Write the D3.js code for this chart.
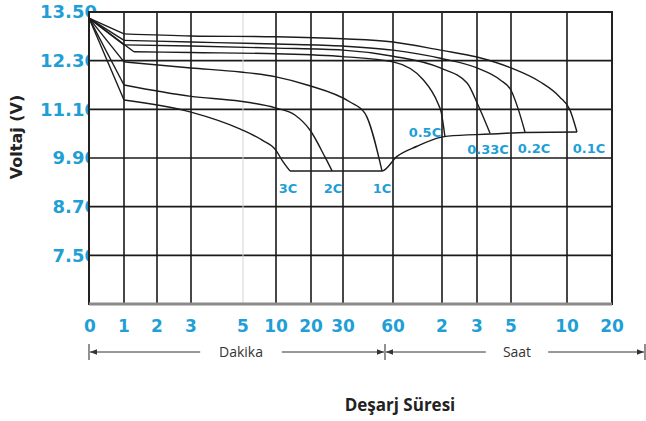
<!DOCTYPE html>
<html>
<head>
<meta charset="utf-8">
<script src="https://cdn.jsdelivr.net/npm/d3@7"></script>
<style>
  body { margin: 0; background: #fff; }
  svg { display: block; }
</style>
</head>
<body>
<svg id="chart" width="646" height="421"></svg>
<script>
// discharge time in minutes, voltage in V
let tickMinutes = [0, 1, 2, 3, 5, 10, 20, 30, 60, 120, 180, 300, 600, 1200];
let tickLabels = ['0', '1', '2', '3', '5', '10', '20', '30', '60', '2', '3', '5', '10', '20'];
let voltTicks = [13.5, 12.3, 11.1, 9.9, 8.7, 7.5];
let voltLabels = ['13.50', '12.30', '11.10', '9.90', '8.70', '7.50'];

let curveNames = ['0.1C', '0.2C', '0.33C', '0.5C', '1C', '2C', '3C'];

let c01 = [[0, 13.35], [1, 12.96], [3, 12.91], [10, 12.89], [30, 12.84], [60, 12.76], [118, 12.56],
  [180, 12.39], [300, 12.12], [455, 11.78], [562, 11.40], [640, 11.08], [733, 10.54]];
let c02 = [[0, 13.35], [1, 12.80], [3, 12.76], [10, 12.71], [30, 12.66], [60, 12.56], [118, 12.36],
  [180, 12.12], [261, 11.83], [300, 11.57], [337, 11.13], [375, 10.54]];
let c033 = [[0, 13.35], [1, 12.69], [3, 12.66], [10, 12.61], [30, 12.56], [60, 12.41], [118, 12.12],
  [163, 11.75], [184, 11.20], [226, 10.51]];
let c05 = [[0, 13.35], [1.3, 12.52], [3, 12.50], [10, 12.47], [30, 12.40], [60, 12.27], [97, 11.83],
  [115, 11.25], [119, 11.03], [125, 10.43]];
let c1 = [[0, 13.35], [1, 12.27], [3, 12.12], [4.9, 12.02], [10, 11.90], [18.9, 11.70], [34.2, 11.28],
  [43.2, 11.00], [53.4, 9.58]];
let c2 = [[0, 13.35], [1, 11.70], [3, 11.42], [4.9, 11.30], [10, 11.13], [15.4, 10.96], [19.7, 10.59],
  [24.4, 9.92], [26.6, 9.58]];
let c3 = [[0, 13.35], [1, 11.33], [3, 11.03], [4.9, 10.61], [7.9, 10.34], [10, 10.09], [11.7, 9.85], [14, 9.58]];

// end-of-discharge voltage line
let cutoff = [[14, 9.58], [53.4, 9.58], [64.9, 9.94], [89.4, 10.19], [118, 10.41], [130, 10.44],
  [226, 10.49], [375, 10.53], [733, 10.54]];

let curves = [c01, c02, c033, c05, c1, c2, c3];

// label offsets from each curve's end point (px)
let labelOffsets = [[12, 16], [9, 16], [-2, 16], [-20, -4], [0, 17], [1, 17], [-2, 17]];

let blue = '#1f9fd5';
let svg = d3.select('#chart');

let margin = {left: 89, right: 612, top: 12, bottom: 304};

let x = d3.scaleLinear()
  .domain(tickMinutes)
  .range([89, 124, 157, 191, 243, 276, 311, 343, 393, 442, 477, 511, 567, 612]);

let y = d3.scaleLinear()
  .domain([6.3, 13.5])
  .range([margin.bottom, margin.top]);

// y tick labels (their last digit is half hidden behind the plot, as in the original)
svg.append('g')
  .selectAll('text')
  .data(voltTicks)
  .enter()
  .append('text')
  .attr('x', 97)
  .attr('y', d => y(d))
  .attr('dy', '0.36em')
  .attr('text-anchor', 'end')
  .style('font-family', 'DejaVu Sans')
  .style('font-weight', 'bold')
  .style('font-size', '18px')
  .style('fill', blue)
  .text((d, i) => voltLabels[i]);

svg.append('rect')
  .attr('x', margin.left)
  .attr('y', margin.top)
  .attr('width', margin.right - margin.left)
  .attr('height', margin.bottom - margin.top)
  .attr('fill', '#fff');

// grid
let grid = svg.append('g');
grid.selectAll('line.h')
  .data(voltTicks.slice(1))
  .enter()
  .append('line')
  .attr('x1', margin.left).attr('x2', margin.right)
  .attr('y1', d => y(d)).attr('y2', d => y(d))
  .attr('stroke', '#1a1a1a')
  .attr('stroke-width', 1.6);

grid.selectAll('line.v')
  .data(tickMinutes.slice(1, -1))
  .enter()
  .append('line')
  .attr('x1', d => x(d)).attr('x2', d => x(d))
  .attr('y1', margin.top).attr('y2', margin.bottom)
  .attr('stroke', d => d === 5 ? '#d4d4d4' : '#1a1a1a')
  .attr('stroke-width', d => d === 5 ? 1 : 1.6);

// frame
grid.append('rect')
  .attr('x', margin.left)
  .attr('y', margin.top)
  .attr('width', margin.right - margin.left)
  .attr('height', margin.bottom - margin.top)
  .attr('fill', 'none')
  .attr('stroke', '#222')
  .attr('stroke-width', 2);

grid.append('line')
  .attr('x1', margin.left).attr('x2', margin.right)
  .attr('y1', margin.bottom).attr('y2', margin.bottom)
  .attr('stroke', '#8a8a8a')
  .attr('stroke-width', 3);

// curves: straight initial drop, then smooth discharge curve
let smooth = d3.line()
  .x(d => x(d[0]))
  .y(d => y(d[1]))
  .curve(d3.curveMonotoneX);
let straight = d3.line()
  .x(d => x(d[0]))
  .y(d => y(d[1]));

let cg = svg.append('g')
  .attr('fill', 'none')
  .attr('stroke', '#1c1c1c')
  .attr('stroke-width', 1.4);

cg.selectAll('path.drop')
  .data(curves)
  .enter()
  .append('path')
  .attr('d', d => straight(d.slice(0, 2)));

cg.selectAll('path.run')
  .data(curves)
  .enter()
  .append('path')
  .attr('d', d => smooth(d.slice(1)));

cg.append('path')
  .datum(cutoff)
  .attr('d', smooth);

// curve labels
svg.append('g')
  .selectAll('text')
  .data(curves)
  .enter()
  .append('text')
  .attr('x', (d, i) => x(d[d.length - 1][0]) + labelOffsets[i][0])
  .attr('y', (d, i) => y(d[d.length - 1][1]) + labelOffsets[i][1])
  .attr('dy', '0.36em')
  .attr('text-anchor', 'middle')
  .style('font-family', 'DejaVu Sans')
  .style('font-weight', 'bold')
  .style('font-size', '13px')
  .style('fill', blue)
  .text((d, i) => curveNames[i]);

// x tick labels
svg.append('g')
  .selectAll('text')
  .data(tickMinutes)
  .enter()
  .append('text')
  .attr('x', d => x(d) + (d === 0 ? 1 : 0))
  .attr('y', 332)
  .attr('text-anchor', 'middle')
  .style('font-family', 'DejaVu Sans')
  .style('font-weight', 'bold')
  .style('font-size', '17px')
  .style('fill', blue)
  .text((d, i) => tickLabels[i]);

// Dakika / Saat spans
let spanY = 352;
let defs = svg.append('defs');
defs.append('marker')
  .attr('id', 'arr')
  .attr('viewBox', '0 0 10 10')
  .attr('refX', 10).attr('refY', 5)
  .attr('markerWidth', 7).attr('markerHeight', 7)
  .attr('markerUnits', 'userSpaceOnUse')
  .attr('orient', 'auto')
  .append('path')
  .attr('d', 'M0,1L10,5L0,9Z')
  .attr('fill', '#333');

let spans = [
  {label: 'Dakika', from: x(0), to: 385, text: 241},
  {label: 'Saat', from: 385, to: 645, text: 517}
];

let sg = svg.append('g');
spans.forEach(function(s) {
  let w = s.label.length * 4.8 + 12;
  sg.append('line')
    .attr('x1', s.text - w).attr('x2', s.from + 1)
    .attr('y1', spanY).attr('y2', spanY)
    .attr('stroke', '#333').attr('stroke-width', 1)
    .attr('marker-end', 'url(#arr)');
  sg.append('line')
    .attr('x1', s.text + w).attr('x2', s.to - 1)
    .attr('y1', spanY).attr('y2', spanY)
    .attr('stroke', '#333').attr('stroke-width', 1)
    .attr('marker-end', 'url(#arr)');
  sg.append('text')
    .attr('x', s.text).attr('y', spanY)
    .attr('dy', '0.35em')
    .attr('text-anchor', 'middle')
    .style('font-family', 'Open Sans')
    .style('font-size', '14px')
    .style('fill', '#333')
    .text(s.label);
});
sg.selectAll('line.tick')
  .data([x(0), 385, 645])
  .enter()
  .append('line')
  .attr('x1', d => d).attr('x2', d => d)
  .attr('y1', spanY - 8).attr('y2', spanY + 8)
  .attr('stroke', '#555').attr('stroke-width', 1.3);

// axis titles
svg.append('text')
  .attr('transform', 'translate(22,137) rotate(-90)')
  .attr('text-anchor', 'middle')
  .style('font-family', 'DejaVu Sans')
  .style('font-weight', 'bold')
  .style('font-size', '16px')
  .style('fill', '#222')
  .text('Voltaj (V)');

svg.append('text')
  .attr('x', 400)
  .attr('y', 411)
  .attr('text-anchor', 'middle')
  .style('font-family', 'Open Sans')
  .style('font-weight', 'bold')
  .style('font-size', '17px')
  .style('fill', '#222')
  .text('Deşarj Süresi');
</script>
</body>
</html>
